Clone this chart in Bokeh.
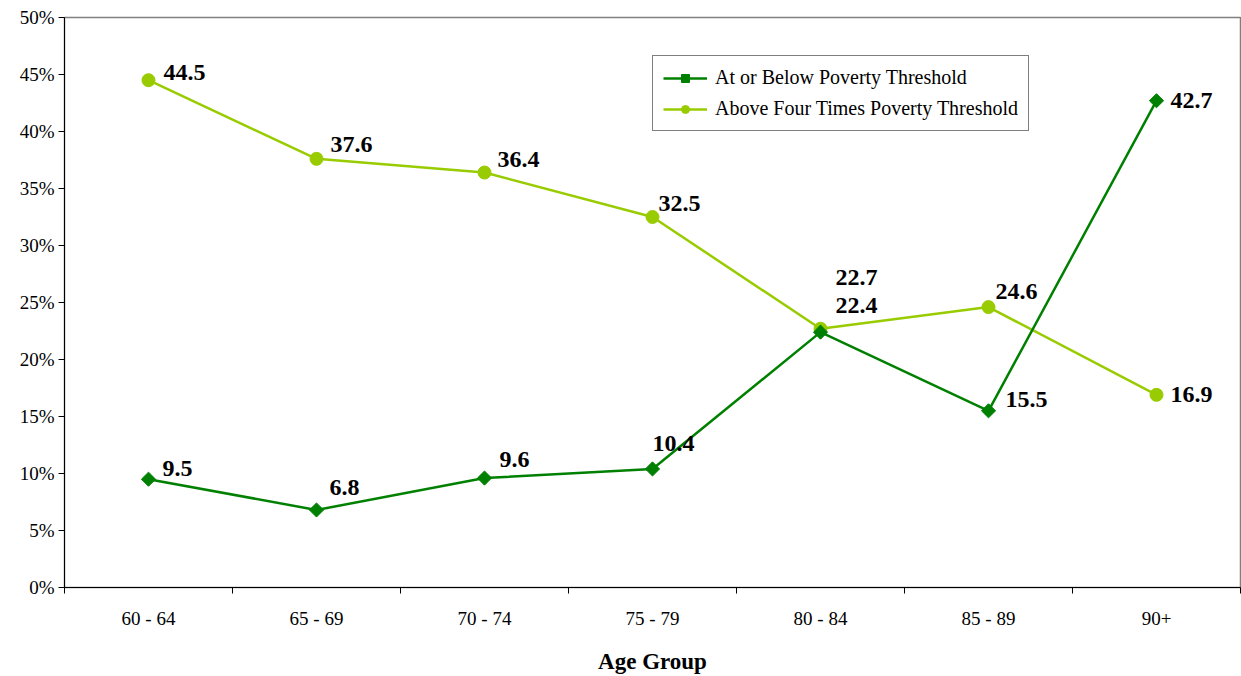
import math
from bokeh.plotting import figure
from bokeh.models import (ColumnDataSource, Range1d, FixedTicker, PrintfTickFormatter,
                          Legend, LegendItem)
from bokeh.core.properties import value
from bokeh.embed import file_html
from bokeh.resources import INLINE

categories = ["60 - 64", "65 - 69", "70 - 74", "75 - 79", "80 - 84", "85 - 89", "90+"]
below_poverty = [9.5, 6.8, 9.6, 10.4, 22.4, 15.5, 42.7]
above_four_times = [44.5, 37.6, 36.4, 32.5, 22.7, 24.6, 16.9]
y_ticks = [0, 5, 10, 15, 20, 25, 30, 35, 40, 45, 50]

# label offsets in screen pixels (positive dy = downwards)
below_dx = [14, 13, 15, 0, 15, 17, 14]
below_dy = [-11, -22, -19, -25, -27, -11, 0]
above_dx = [15, 14, 13, 6, 15, 7, 14]
above_dy = [-8, -14, -13, -14, -51, -16, 0]

FONT = "Liberation Serif"
DARK = "#008000"
LIGHT = "#99cc00"

xs = [i + 0.5 for i in range(len(categories))]

p = figure(width=1241, height=676, output_backend="svg", toolbar_location=None,
           x_range=Range1d(0, len(categories)), y_range=Range1d(0, 50),
           min_border_left=64, min_border_right=1, min_border_top=17, min_border_bottom=89)

p.xgrid.visible = False
p.ygrid.visible = False
p.outline_line_color = "#808080"
p.outline_line_width = 1.5

src_b = ColumnDataSource(dict(x=xs, y=below_poverty, lab=[f"{v:.1f}" for v in below_poverty],
                              dx=below_dx, dy=below_dy))
src_a = ColumnDataSource(dict(x=xs, y=above_four_times, lab=[f"{v:.1f}" for v in above_four_times],
                              dx=above_dx, dy=above_dy))

la = p.line("x", "y", source=src_a, line_color=LIGHT, line_width=2.5)
sa = p.scatter("x", "y", source=src_a, marker="circle", size=13, fill_color=LIGHT, line_color=LIGHT)
lb = p.line("x", "y", source=src_b, line_color=DARK, line_width=2.5)
sb = p.scatter("x", "y", source=src_b, marker="square", size=10, angle=math.pi / 4,
               fill_color=DARK, line_color=DARK)

for src in (src_a, src_b):
    p.text("x", "y", text="lab", source=src, x_offset="dx", y_offset="dy",
           text_font=value(FONT), text_font_size="24px", text_font_style="bold",
           text_color="black", text_baseline="middle", text_align="left")

# axes
xa = p.xaxis[0]
xa.ticker = FixedTicker(ticks=xs, minor_ticks=list(range(len(categories) + 1)))
xa.major_label_overrides = {x: c for x, c in zip(xs, categories)}
xa.major_tick_line_color = None
xa.minor_tick_line_color = "black"
xa.minor_tick_out = 6
xa.minor_tick_in = 0
xa.axis_line_color = "black"
xa.major_label_text_font = FONT
xa.major_label_text_font_size = "19px"
xa.major_label_text_color = "black"
xa.major_label_standoff = 14
xa.axis_label = "Age Group"
xa.axis_label_text_font = FONT
xa.axis_label_text_font_size = "23px"
xa.axis_label_text_font_style = "bold"
xa.axis_label_text_color = "black"
xa.axis_label_standoff = 17

ya = p.yaxis[0]
ya.ticker = FixedTicker(ticks=y_ticks)
ya.formatter = PrintfTickFormatter(format="%d%%")
ya.minor_tick_line_color = None
ya.major_tick_out = 6
ya.major_tick_in = 0
ya.axis_line_color = "black"
ya.major_label_text_font = FONT
ya.major_label_text_font_size = "19px"
ya.major_label_text_color = "black"
ya.major_label_standoff = 4

legend = Legend(items=[LegendItem(label="At or Below Poverty Threshold", renderers=[lb, sb]),
                       LegendItem(label="Above Four Times Poverty Threshold", renderers=[la, sa])],
                location=(588, 456), border_line_color="black", border_line_width=1,
                label_text_font=FONT, label_text_font_size="20px", label_text_color="black",
                glyph_width=44, label_standoff=8, spacing=8, padding=10, margin=0,
                background_fill_color="white", background_fill_alpha=1)
p.add_layout(legend, "center")

open("out.html", "w").write(file_html(p, INLINE))
